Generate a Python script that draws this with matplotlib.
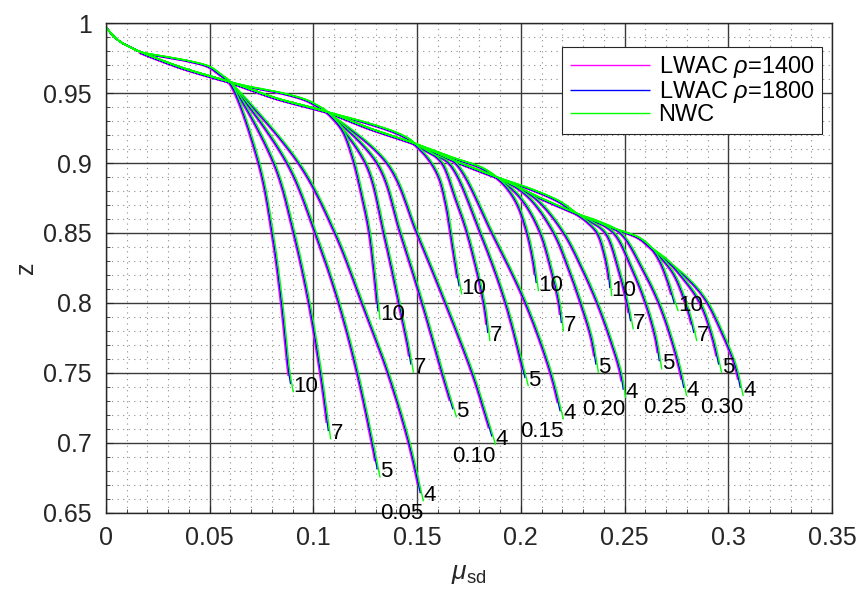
import numpy as np
import matplotlib
matplotlib.use("Agg")
import matplotlib.pyplot as plt
from matplotlib.ticker import MultipleLocator

plt.rcParams['font.family'] = ['Liberation Sans', 'DejaVu Sans']
plt.rcParams['mathtext.fontset'] = 'custom'
plt.rcParams['mathtext.rm'] = 'Liberation Sans'
plt.rcParams['mathtext.it'] = 'Liberation Sans:italic'
plt.rcParams['mathtext.bf'] = 'Liberation Sans:bold'

# ---- data -------------------------------------------------------------
ratios = ['0.05', '0.10', '0.15', '0.20', '0.25', '0.30']
params = ['4', '5', '7', '10']

# shared start of every curve
start_mu = [0.0, 0.0035, 0.0068, 0.0116, 0.0164]
start_z = [0.997, 0.991, 0.9869, 0.9829, 0.9797]

# points where each ratio leaves the envelope
branch_mu = [0.0600, 0.1070, 0.1490, 0.1885, 0.2270, 0.2635]
branch_z = [0.9580, 0.9365, 0.9140, 0.8900, 0.8640, 0.8390]

# lower envelope between successive branch points
trunk_mu = [0.0373, 0.0823, 0.1280, 0.1690, 0.2080]
trunk_z = [0.9680, 0.9464, 0.9245, 0.9012, 0.8762]

# upper bulge leading into each branch point
bulge_mu = [[0.0292, 0.0405, 0.0501, 0.0550],
            [0.0694, 0.0855, 0.0968, 0.1016],
            [0.1257, 0.1401, 0.1466],
            [0.1659, 0.1819],
            [0.2060, 0.2189, 0.2245],
            [0.2446, 0.2575]]
bulge_z = [[0.9761, 0.9730, 0.9690, 0.9640],
           [0.9547, 0.9500, 0.9452, 0.9416],
           [0.9290, 0.9219, 0.9170],
           [0.9047, 0.8964],
           [0.8810, 0.8726, 0.8668],
           [0.8536, 0.8464]]

# descending branches (after the branch point), per ratio and parameter
desc_mu = {
    '0.05': {'4': [0.0935, 0.1110, 0.1240, 0.1365, 0.1466, 0.1530],
             '5': [0.0879, 0.1015, 0.1128, 0.1217, 0.1289, 0.1321],
             '7': [0.0815, 0.0911, 0.0984, 0.1040, 0.1083],
             '10': [0.0742, 0.0807, 0.0852, 0.0887, 0.0903]},
    '0.10': {'4': [0.1361, 0.1505, 0.1642, 0.1771, 0.1825, 0.1878],
             '5': [0.1313, 0.1425, 0.1530, 0.1626, 0.1690],
             '7': [0.1257, 0.1345, 0.1418, 0.1460, 0.1482],
             '10': [0.1144, 0.1193, 0.1233, 0.1273, 0.1297, 0.1321]},
    '0.15': {'4': [0.1600, 0.1691, 0.1867, 0.2028, 0.2149, 0.2205],
             '5': [0.1570, 0.1659, 0.1811, 0.1932, 0.2020, 0.2036],
             '7': [0.1565, 0.1626, 0.1690, 0.1747, 0.1827, 0.1851],
             '10': [0.1560, 0.1610, 0.1645, 0.1667, 0.1693, 0.1715]},
    '0.20': {'4': [0.1980, 0.2090, 0.2213, 0.2300, 0.2374, 0.2435, 0.2486, 0.2505],
             '5': [0.1970, 0.2060, 0.2165, 0.2235, 0.2294, 0.2345, 0.2374],
             '7': [0.1960, 0.2030, 0.2100, 0.2150, 0.2189, 0.2205],
             '10': [0.1940, 0.1990, 0.2036, 0.2065, 0.2085]},
    '0.25': {'4': [0.2360, 0.2486, 0.2590, 0.2671, 0.2730, 0.2776, 0.2799],
             '5': [0.2350, 0.2454, 0.2540, 0.2607, 0.2655, 0.2679],
             '7': [0.2335, 0.2414, 0.2475, 0.2518, 0.2542],
             '10': [0.2325, 0.2374, 0.2408, 0.2428, 0.2438]},
    '0.30': {'4': [0.2703, 0.2816, 0.2896, 0.2976, 0.3040, 0.3072],
             '5': [0.2700, 0.2775, 0.2870, 0.2930, 0.2968],
             '7': [0.2690, 0.2745, 0.2800, 0.2830, 0.2848],
             '10': [0.2675, 0.2715, 0.2745, 0.2759]},
}
desc_z = {
    '0.05': {'4': [0.900, 0.850, 0.800, 0.750, 0.700, 0.658],
             '5': [0.900, 0.850, 0.800, 0.750, 0.700, 0.675],
             '7': [0.900, 0.850, 0.800, 0.750, 0.7024],
             '10': [0.900, 0.850, 0.800, 0.750, 0.736]},
    '0.10': {'4': [0.900, 0.850, 0.800, 0.750, 0.725, 0.6985],
             '5': [0.900, 0.850, 0.800, 0.750, 0.718],
             '7': [0.900, 0.850, 0.800, 0.770, 0.750],
             '10': [0.9238, 0.9048, 0.881, 0.8524, 0.8238, 0.788]},
    '0.15': {'4': [0.907, 0.900, 0.850, 0.800, 0.750, 0.7166],
             '5': [0.907, 0.900, 0.850, 0.800, 0.750, 0.7404],
             '7': [0.908, 0.900, 0.875, 0.850, 0.800, 0.7726],
             '10': [0.903, 0.890, 0.870, 0.850, 0.825, 0.806]},
    '0.20': {'4': [0.884, 0.873, 0.850, 0.825, 0.800, 0.775, 0.750, 0.732],
             '5': [0.884, 0.873, 0.850, 0.825, 0.800, 0.775, 0.750],
             '7': [0.882, 0.870, 0.850, 0.825, 0.800, 0.7797],
             '10': [0.882, 0.870, 0.850, 0.830, 0.8083]},
    '0.25': {'4': [0.8595, 0.850, 0.825, 0.800, 0.775, 0.750, 0.7333],
             '5': [0.8595, 0.850, 0.825, 0.800, 0.775, 0.7524],
             '7': [0.859, 0.850, 0.825, 0.800, 0.781],
             '10': [0.858, 0.850, 0.835, 0.820, 0.8047]},
    '0.30': {'4': [0.831, 0.8166, 0.8024, 0.7786, 0.7547, 0.7333],
             '5': [0.832, 0.820, 0.800, 0.775, 0.750],
             '7': [0.831, 0.820, 0.800, 0.785, 0.7726],
             '10': [0.830, 0.815, 0.800, 0.794]},
}

# concrete types: label, colour, small shift of the curve, earlier end
materials = ['LWAC $\\rho$=1400', 'LWAC $\\rho$=1800', 'NWC']
mat_colors = ['#ff00ff', '#0000ff', '#00ff00']
mat_dmu = [-0.0011, -0.00055, 0.0]
mat_dz = [-0.0004, -0.0002, 0.0]
mat_end_rise = [0.012, 0.006, 0.0]

xticks = [0, 0.05, 0.1, 0.15, 0.2, 0.25, 0.3, 0.35]
xticklabels = ['0', '0.05', '0.1', '0.15', '0.2', '0.25', '0.3', '0.35']
yticks = [0.65, 0.7, 0.75, 0.8, 0.85, 0.9, 0.95, 1.0]
yticklabels = ['0.65', '0.7', '0.75', '0.8', '0.85', '0.9', '0.95', '1']

# pixel scale of one data unit, used to smooth the polylines evenly
SX, SZ = 2074.0, 1400.0


def curve_points(k, p):
    """Full list of points for ratio k, parameter p."""
    mu, z = list(start_mu), list(start_z)
    for j in range(k):
        mu += [trunk_mu[j], branch_mu[j]]
        z += [trunk_z[j], branch_z[j]]
    mu += bulge_mu[k] + [branch_mu[k]] + desc_mu[ratios[k]][p]
    z += bulge_z[k] + [branch_z[k]] + desc_z[ratios[k]][p]
    return np.array(mu), np.array(z)


def smooth_line(mu, z, n=14):
    """Centripetal Catmull-Rom line through the points."""
    P = np.column_stack([mu * SX, z * SZ])
    P = np.vstack([2 * P[0] - P[1], P, 2 * P[-1] - P[-2]])
    out = [P[1]]
    for i in range(1, len(P) - 2):
        p0, p1, p2, p3 = P[i - 1], P[i], P[i + 1], P[i + 2]
        t0 = 0.0
        t1 = t0 + max(np.linalg.norm(p1 - p0), 1e-6) ** 0.5
        t2 = t1 + max(np.linalg.norm(p2 - p1), 1e-6) ** 0.5
        t3 = t2 + max(np.linalg.norm(p3 - p2), 1e-6) ** 0.5
        t = np.linspace(t1, t2, n)[1:, None]
        a1 = (t1 - t) / (t1 - t0) * p0 + (t - t0) / (t1 - t0) * p1
        a2 = (t2 - t) / (t2 - t1) * p1 + (t - t1) / (t2 - t1) * p2
        a3 = (t3 - t) / (t3 - t2) * p2 + (t - t2) / (t3 - t2) * p3
        b1 = (t2 - t) / (t2 - t0) * a1 + (t - t0) / (t2 - t0) * a2
        b2 = (t3 - t) / (t3 - t1) * a2 + (t - t1) / (t3 - t1) * a3
        c = (t2 - t) / (t2 - t1) * b1 + (t - t1) / (t2 - t1) * b2
        out.extend(c)
    out = np.array(out)
    return out[:, 0] / SX, out[:, 1] / SZ


def cut_at(mu, z, z_cut):
    """Drop the tail of a descending line that lies below z_cut."""
    keep = z > z_cut
    last = np.nonzero(keep)[0][-1]
    if last == len(z) - 1:
        return mu, z
    t = (z[last] - z_cut) / (z[last] - z[last + 1])
    mu_c = mu[last] + t * (mu[last + 1] - mu[last])
    return np.append(mu[:last + 1], mu_c), np.append(z[:last + 1], z_cut)


# ---- figure -----------------------------------------------------------
fig = plt.figure(figsize=(8.57, 6.07), dpi=100)
ax = fig.add_axes([106 / 857, 1 - 512.5 / 607, 726 / 857, 489.2 / 607])

handles = []
for m, (name, col) in enumerate(zip(materials, mat_colors)):
    for k in range(len(ratios)):
        for p in params:
            mu0, z0 = curve_points(k, p)
            mu, z = smooth_line(mu0, z0)
            body = mu > start_mu[-1]
            mu = np.where(body, mu + mat_dmu[m], mu)
            z = np.where(body, z + mat_dz[m], z)
            mu, z = cut_at(mu, z, z0[-1] + mat_dz[m] + mat_end_rise[m] - 1e-9)
            ln, = ax.plot(mu, z, color=col, lw=1.0, solid_capstyle='butt')
    handles.append(ln)

# parameter and ratio labels at the curve ends
for k, r in enumerate(ratios):
    for p in params:
        ax.text(desc_mu[r][p][-1], desc_z[r][p][-1] + 0.004, p,
                fontsize=16, ha='left', va='center', color='black')
    ax.text(desc_mu[r]['4'][-1], desc_z[r]['4'][-1] - 0.0085, r,
            fontsize=16, ha='right', va='center', color='black')

ax.set_xlim(0, 0.35)
ax.set_ylim(0.65, 1.0)
ax.set_xticks(xticks, xticklabels)
ax.set_yticks(yticks, yticklabels)
ax.xaxis.set_minor_locator(MultipleLocator(0.01))
ax.yaxis.set_minor_locator(MultipleLocator(0.01))
ax.grid(which='major', color='#3a3a3a', lw=1.0, ls='-')
ax.grid(which='minor', color='#8c8c8c', lw=0.8, ls=(0, (1, 4)))
ax.set_axisbelow(True)
ax.tick_params(which='both', direction='in', colors='#262626',
               labelcolor='#262626', labelsize=18, top=False, right=False)
ax.tick_params(which='major', length=5, pad=10)
ax.tick_params(which='minor', length=3)
for s in ax.spines.values():
    s.set_color('#262626')
    s.set_linewidth(1.0)

ax.set_xlabel(r'$\mu_{\mathrm{sd}}$', fontsize=19, color='#262626', labelpad=8)
ax.set_ylabel('z', fontsize=18, color='#262626', labelpad=4)

leg = ax.legend(handles, materials, loc='upper right',
                bbox_to_anchor=(0.986, 0.952), fontsize=17,
                frameon=True, fancybox=False, framealpha=1,
                edgecolor='#262626', handlelength=3.4, handletextpad=0.35,
                borderpad=0.32, labelspacing=-0.05, borderaxespad=0)
leg.get_frame().set_linewidth(0.8)

fig.savefig('out.png', dpi=100, facecolor='white')
